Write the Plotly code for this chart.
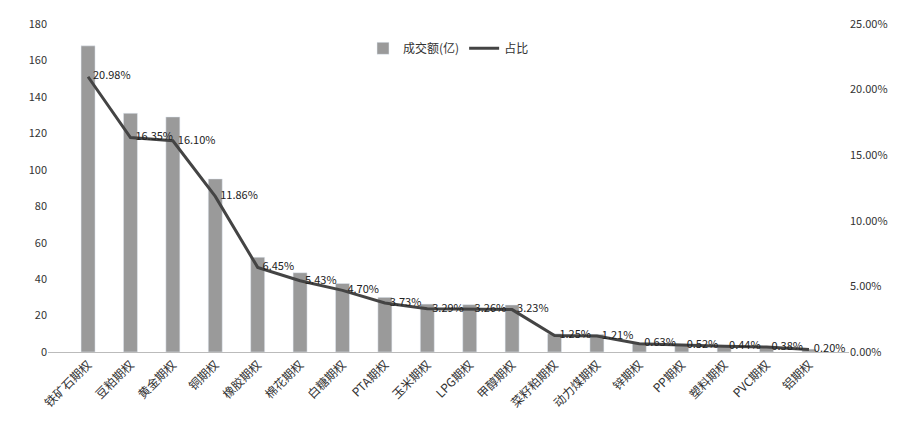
import plotly.graph_objects as go

categories = ["铁矿石期权","豆粕期权","黄金期权","铜期权","橡胶期权","棉花期权","白糖期权","PTA期权","玉米期权","LPG期权","甲醇期权","菜籽粕期权","动力煤期权","锌期权","PP期权","塑料期权","PVC期权","铝期权"]
turnover = [168,131,129,95,52,43.5,37.6,30,26.3,26,25.8,10,9.7,5,4.2,3.5,3,1.6]
share = [20.98,16.35,16.10,11.86,6.45,5.43,4.70,3.73,3.29,3.26,3.23,1.25,1.21,0.63,0.52,0.44,0.38,0.20]

font = "Noto Sans CJK SC"
fig = go.Figure()
fig.add_trace(go.Bar(x=categories, y=turnover, name="成交额(亿)", marker_color="#9a9a9a", width=0.33))
fig.add_trace(go.Scatter(x=categories, y=share, name="占比", yaxis="y2", mode="lines+text",
                         line=dict(color="#444444", width=3),
                         text=["  " + f"{v:.2f}%" for v in share], textposition="middle right",
                         textfont=dict(size=11, color="#222")))
fig.update_layout(
    width=900, height=438, plot_bgcolor="white", paper_bgcolor="white",
    margin=dict(l=40, r=59, t=16, b=94),
    font=dict(family=font, size=11, color="#333"),
    legend=dict(orientation="h", x=0.5, xanchor="center", y=0.97, yanchor="top", font=dict(size=12)),
    xaxis=dict(tickangle=-45, showline=True, linecolor="#bbb", tickfont=dict(size=12), automargin=False),
    yaxis=dict(range=[0,180], dtick=20, showgrid=False, ticks="", zeroline=False, automargin=False),
    yaxis2=dict(range=[0,25], dtick=5, overlaying="y", side="right", showgrid=False,
                ticksuffix="%", tickformat=".2f", zeroline=False, automargin=False),
)
fig.write_html("out.html")
